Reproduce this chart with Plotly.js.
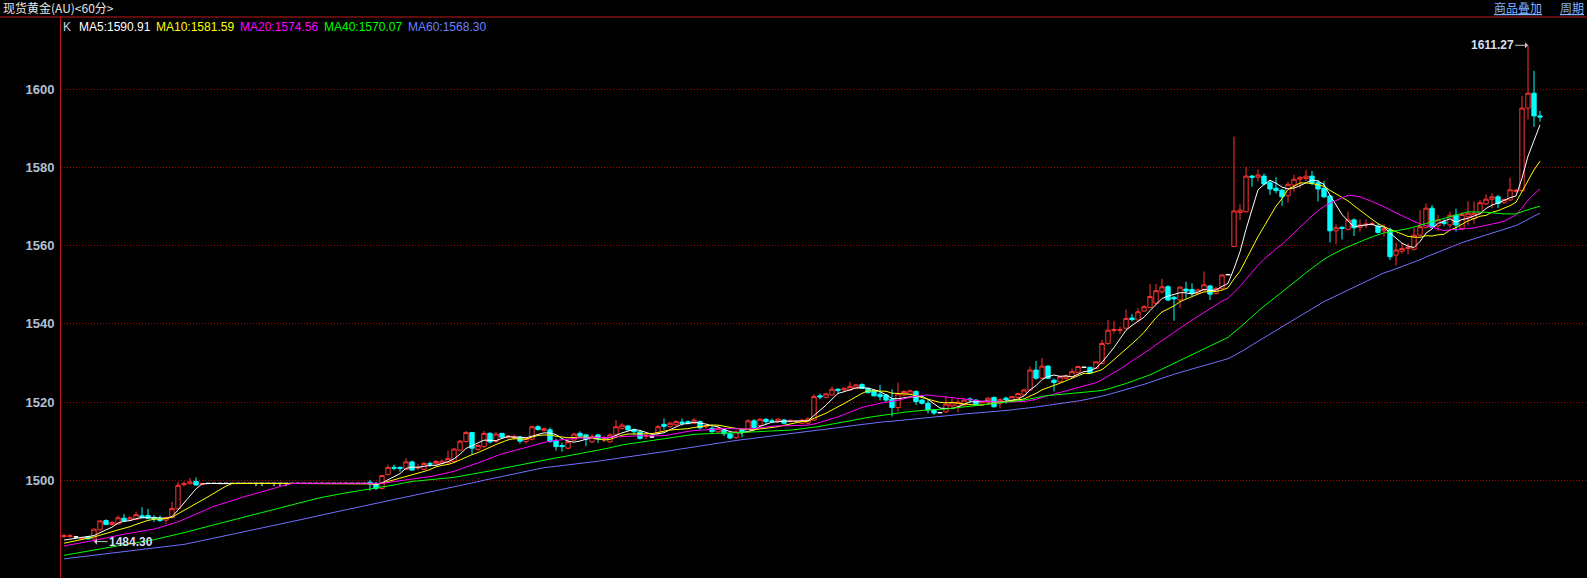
<!DOCTYPE html>
<html>
<head>
<meta charset="utf-8">
<script src="https://cdn.plot.ly/plotly-3.0.1.min.js"></script>
<style>
  html, body { margin: 0; padding: 0; background: #000; }
  #chart { width: 1587px; height: 578px; }
</style>
</head>
<body>
<div id="chart"></div>
<script>
// 现货黄金 (AU) hourly bars, oldest first
const opens = [
  1485.6,1485.6,1485.5,1485.0,1485.6,1485.0,1487.3,1489.7,1488.7,1488.8,
  1490.3,1489.8,1490.0,1490.9,1491.0,1490.5,1490.3,1489.8,1490.5,1492.7,
  1498.9,1499.1,1499.7,1498.9,1499.2,1499.2,1499.2,1499.2,1499.2,1499.2,
  1499.2,1499.2,1499.2,1499.2,1499.2,1499.2,1499.2,1499.2,1499.2,1499.2,
  1499.2,1499.2,1499.2,1499.2,1499.2,1499.2,1499.2,1499.2,1499.2,1499.2,
  1499.2,1499.5,1499.2,1497.9,1501.5,1503.3,1503.3,1502.8,1504.7,1503.1,
  1502.8,1504.3,1504.2,1504.3,1504.5,1504.8,1507.7,1509.9,1512.2,1507.9,
  1508.6,1512.0,1509.9,1512.0,1511.0,1510.9,1511.0,1509.9,1510.5,1513.7,
  1512.7,1512.9,1510.1,1508.9,1508.2,1510.3,1512.0,1511.6,1509.8,1511.6,
  1510.4,1509.8,1511.6,1513.3,1513.9,1513.0,1512.4,1511.2,1511.1,1512.0,
  1514.3,1513.7,1514.2,1514.9,1515.0,1514.6,1515.0,1513.7,1513.3,1512.4,
  1512.9,1511.9,1510.9,1512.9,1512.4,1515.2,1514.0,1515.6,1515.2,1515.0,
  1515.4,1515.1,1515.0,1514.6,1514.6,1515.4,1521.6,1521.2,1521.8,1523.3,
  1523.1,1523.1,1523.5,1524.5,1523.5,1522.9,1522.0,1521.8,1520.7,1518.6,
  1521.8,1522.0,1522.7,1520.5,1519.7,1518.0,1517.3,1517.5,1519.0,1519.0,
  1519.3,1520.8,1520.5,1519.4,1519.9,1521.2,1519.7,1521.0,1520.1,1521.2,
  1521.8,1523.1,1528.2,1526.1,1529.2,1525.6,1525.2,1526.1,1526.5,1527.6,
  1528.9,1528.9,1528.6,1529.9,1535.0,1538.3,1538.3,1538.9,1541.5,1541.0,
  1543.3,1544.2,1545.3,1548.2,1549.5,1546.8,1546.1,1548.9,1548.8,1547.8,
  1548.7,1549.7,1547.8,1549.1,1552.6,1559.8,1568.5,1568.7,1577.8,1577.5,
  1577.8,1576.1,1574.7,1574.2,1572.8,1575.5,1577.0,1577.2,1577.8,1576.1,
  1574.7,1572.7,1563.8,1564.7,1564.2,1566.6,1564.7,1565.3,1565.4,1565.0,
  1563.8,1564.0,1557.6,1558.6,1559.3,1559.1,1562.7,1564.7,1569.6,1565.1,
  1566.1,1565.3,1567.8,1564.4,1567.4,1567.0,1568.3,1570.7,1571.9,1572.5,
  1571.0,1571.7,1573.9,1574.1,1595.2,1599.0,1593.2
];
const highs = [
  1486.3,1486.3,1485.7,1485.5,1485.8,1487.6,1489.8,1490.0,1489.5,1491.0,
  1491.4,1490.8,1492.0,1493.1,1492.7,1491.1,1491.0,1490.7,1494.5,1499.6,
  1499.7,1500.6,1500.7,1499.3,1499.2,1499.2,1499.2,1499.2,1499.2,1499.2,
  1499.2,1499.2,1499.2,1499.2,1499.2,1499.2,1499.2,1499.2,1499.2,1499.2,
  1499.2,1499.2,1499.2,1499.2,1499.2,1499.2,1499.2,1499.2,1499.2,1499.2,
  1499.2,1500.1,1499.5,1501.3,1504.0,1504.0,1503.5,1505.6,1505.0,1504.2,
  1504.8,1504.8,1505.2,1505.3,1507.6,1508.2,1510.3,1512.6,1512.4,1509.2,
  1512.6,1512.3,1512.4,1512.1,1511.6,1511.7,1511.3,1510.9,1514.0,1514.1,
  1513.5,1513.5,1510.7,1509.6,1510.1,1512.2,1512.5,1511.9,1511.8,1511.9,
  1511.3,1512.0,1515.4,1514.6,1514.0,1513.3,1512.6,1511.8,1511.3,1514.1,
  1515.8,1515.0,1515.4,1515.8,1515.3,1515.9,1515.3,1514.2,1513.8,1513.7,
  1513.1,1512.2,1512.8,1513.3,1515.6,1515.6,1515.9,1515.9,1515.8,1515.9,
  1515.7,1515.6,1515.3,1515.7,1516.1,1522.0,1522.2,1522.4,1524.0,1523.5,
  1523.8,1525.2,1524.7,1524.8,1523.7,1523.1,1524.4,1522.0,1523.3,1525.0,
  1523.0,1523.2,1523.0,1520.8,1520.5,1518.3,1517.4,1521.4,1521.2,1521.0,
  1520.8,1521.2,1520.7,1520.3,1521.2,1521.4,1520.9,1521.4,1521.6,1522.4,
  1523.4,1529.1,1530.5,1531.3,1529.4,1526.0,1526.8,1527.0,1528.6,1529.3,
  1529.0,1529.0,1530.5,1535.9,1541.0,1540.7,1539.3,1543.7,1542.5,1544.0,
  1544.8,1550.2,1550.2,1551.5,1549.9,1547.2,1549.6,1550.8,1550.4,1549.0,
  1553.4,1550.0,1549.4,1552.7,1552.8,1587.9,1570.6,1580.2,1578.1,1579.5,
  1578.5,1576.8,1577.6,1574.5,1576.4,1578.1,1577.8,1579.4,1579.1,1576.8,
  1576.5,1572.9,1565.5,1565.0,1568.7,1567.0,1566.7,1566.7,1566.2,1565.6,
  1565.6,1564.6,1560.8,1560.6,1560.6,1564.6,1569.1,1570.8,1570.4,1567.9,
  1566.7,1568.7,1569.5,1568.5,1571.4,1571.3,1571.7,1573.2,1573.4,1573.0,
  1572.0,1577.4,1574.4,1598.3,1611.27,1604.7,1594.5
];
const lows = [
  1485.2,1485.3,1485.3,1484.9,1484.9,1484.3,1487.2,1488.5,1488.4,1488.6,
  1489.4,1489.6,1489.8,1490.3,1490.0,1489.3,1489.3,1488.8,1490.3,1492.5,
  1498.4,1499.0,1498.6,1498.9,1499.2,1499.2,1499.2,1499.2,1499.2,1499.2,
  1499.2,1499.2,1498.5,1498.5,1499.2,1498.5,1498.5,1498.5,1499.2,1499.2,
  1499.2,1499.2,1499.2,1499.2,1499.2,1499.2,1499.2,1499.2,1499.2,1499.2,
  1499.2,1497.3,1497.5,1497.6,1501.3,1502.6,1502.2,1502.6,1502.4,1502.6,
  1502.5,1503.4,1504.0,1504.2,1504.3,1504.4,1507.4,1509.7,1506.5,1507.6,
  1508.3,1509.4,1509.6,1510.6,1510.5,1510.3,1509.4,1509.3,1510.2,1512.7,
  1512.5,1509.6,1507.6,1507.3,1507.9,1510.0,1510.9,1508.8,1509.5,1509.5,
  1509.8,1509.6,1511.3,1513.0,1512.6,1511.6,1510.4,1510.5,1510.9,1511.6,
  1512.9,1513.4,1514.0,1514.0,1514.3,1514.4,1513.0,1513.2,1512.2,1512.1,
  1511.3,1510.5,1510.5,1511.0,1512.1,1513.2,1513.8,1514.4,1514.6,1514.8,
  1514.3,1514.8,1514.8,1514.4,1514.4,1515.2,1520.7,1521.0,1521.6,1522.2,
  1522.8,1522.9,1523.3,1523.3,1522.2,1521.4,1520.4,1520.0,1516.3,1517.6,
  1521.5,1521.8,1519.3,1519.4,1517.1,1516.7,1517.2,1517.2,1518.4,1517.4,
  1519.0,1519.8,1519.1,1519.2,1519.7,1518.6,1518.4,1519.6,1519.9,1521.0,
  1521.6,1522.8,1525.7,1525.9,1525.9,1522.7,1525.0,1525.8,1526.3,1527.4,
  1528.8,1527.2,1528.4,1529.7,1534.7,1537.6,1537.4,1538.6,1540.6,1540.8,
  1543.1,1544.0,1544.9,1547.8,1545.8,1540.8,1544.0,1546.5,1547.0,1547.5,
  1548.3,1546.1,1547.5,1548.8,1552.4,1559.6,1566.6,1568.4,1575.1,1576.4,
  1575.5,1573.0,1573.4,1570.2,1571.0,1573.8,1574.7,1576.5,1575.5,1571.3,
  1572.2,1560.8,1560.4,1561.6,1563.9,1562.5,1563.6,1564.5,1565.1,1563.1,
  1562.3,1556.3,1554.9,1558.0,1557.8,1558.8,1562.4,1564.4,1564.4,1563.8,
  1565.0,1564.4,1563.6,1564.0,1565.3,1565.6,1568.0,1570.4,1569.6,1569.6,
  1570.7,1571.4,1573.6,1573.8,1592.3,1590.4,1591.7
];
const closes = [
  1485.8,1485.8,1485.5,1485.4,1485.0,1487.5,1489.6,1488.7,1489.2,1490.4,
  1489.6,1490.4,1491.2,1490.5,1490.3,1490.2,1489.7,1490.5,1492.8,1498.7,
  1499.1,1499.6,1498.8,1499.2,1499.2,1499.2,1499.2,1499.2,1499.2,1499.2,
  1499.2,1499.2,1499.2,1499.2,1499.2,1499.2,1499.2,1499.2,1499.2,1499.2,
  1499.2,1499.2,1499.2,1499.2,1499.2,1499.2,1499.2,1499.2,1499.2,1499.2,
  1499.2,1499.1,1497.9,1501.2,1503.3,1503.1,1503.0,1504.7,1502.6,1503.3,
  1504.3,1504.1,1504.8,1504.9,1505.6,1508.0,1510.0,1512.2,1508.2,1508.9,
  1512.0,1509.8,1511.8,1511.0,1511.3,1511.2,1510.0,1510.7,1513.7,1513.0,
  1513.2,1509.9,1508.6,1508.6,1509.9,1511.8,1511.3,1510.5,1511.2,1510.5,
  1510.6,1511.6,1513.7,1514.1,1512.9,1512.4,1510.7,1511.5,1511.1,1513.7,
  1513.8,1514.6,1515.0,1514.6,1514.6,1515.4,1513.4,1513.9,1512.4,1513.3,
  1511.9,1510.8,1512.4,1512.2,1515.2,1513.5,1515.6,1515.0,1515.0,1515.6,
  1514.6,1515.3,1515.1,1515.4,1515.7,1521.4,1521.3,1522.1,1523.3,1523.0,
  1523.5,1524.0,1524.4,1523.5,1522.4,1521.6,1521.4,1520.5,1518.6,1522.1,
  1522.7,1522.9,1520.1,1519.7,1518.0,1517.2,1517.3,1519.5,1519.8,1520.0,
  1520.5,1520.6,1519.3,1520.1,1521.0,1518.8,1520.7,1520.6,1521.4,1522.2,
  1523.1,1528.2,1526.1,1529.2,1526.1,1525.0,1526.5,1526.7,1527.8,1529.1,
  1528.9,1527.5,1530.3,1535.0,1538.4,1538.6,1538.5,1541.4,1541.1,1543.1,
  1544.4,1547.0,1548.5,1549.5,1546.1,1546.4,1549.4,1548.4,1547.8,1548.7,
  1550.0,1547.6,1549.1,1552.5,1552.6,1568.9,1569.1,1577.8,1577.5,1578.1,
  1575.8,1574.5,1574.1,1572.5,1575.7,1577.0,1577.5,1577.8,1576.0,1574.5,
  1572.5,1563.8,1564.6,1564.4,1566.6,1564.6,1565.3,1565.5,1565.6,1563.4,
  1564.4,1557.2,1558.9,1559.3,1559.6,1562.7,1564.9,1569.6,1564.7,1566.6,
  1565.7,1567.8,1565.3,1568.0,1568.3,1568.3,1571.0,1571.9,1572.5,1570.8,
  1571.85,1574.3,1574.2,1595.2,1599.0,1593.2,1592.95
];

// Moving-average values for the bars before each window is full (every 5th bar)
const headStep = 5;
const ma5Head  = [1484.7];
const ma10Head = [1483.9, 1485.5];
const ma20Head = [1483.2, 1484.6, 1486.2, 1487.5];
const ma40Head = [1480.8, 1482.2, 1483.5, 1484.8, 1486.6, 1488.6, 1490.6, 1492.6];
const ma60Head = [1479.9, 1480.8, 1481.7, 1482.6, 1483.6, 1485.2, 1486.8, 1488.5,
                  1490.1, 1491.8, 1493.4, 1495.0];

// Moving-average settings and latest readings
const maPeriods = [5, 10, 20, 40, 60];
const maHeads   = [ma5Head, ma10Head, ma20Head, ma40Head, ma60Head];
const maColors  = ['#ffffff', '#ffff00', '#ff00ff', '#00ff00', '#7070ff'];
const maLabelColors = ['#ffffff', '#ffff00', '#ff00ff', '#00ff00', '#6a80ff'];
const maLatest  = ['1590.91', '1581.59', '1574.56', '1570.07', '1568.30'];

const yTicks = [1500, 1520, 1540, 1560, 1580, 1600];
const highMark = {bar: 244, value: 1611.27, label: '1611.27'};
const lowMark  = {bar: 5,   value: 1484.30, label: '1484.30'};

const W = 1587, H = 578, L = 61, T = 17;
const plotW = W - L, plotH = H - T;
const px = x => (x - L) / plotW;      // pixel -> paper x
const py = y => (H - y) / plotH;      // pixel -> paper y

const idx = closes.map((_, i) => i);

// split bars into coloured candles and flat (open == close) ones
const bodyIdx = idx.filter(i => opens[i] !== closes[i]);
const flatIdx = idx.filter(i => opens[i] === closes[i]);
const pick = (arr, sel) => sel.map(i => arr[i]);

function movingAverage(n, head) {
  const xs = [], ys = [];
  head.forEach((v, j) => { xs.push(j * headStep); ys.push(v); });
  for (let i = n - 1; i < closes.length; i++) {
    let s = 0;
    for (let k = i - n + 1; k <= i; k++) s += closes[k];
    xs.push(i); ys.push(s / n);
  }
  return {xs, ys};
}

const traces = [
  {
    type: 'candlestick',
    x: bodyIdx, open: pick(opens, bodyIdx), high: pick(highs, bodyIdx),
    low: pick(lows, bodyIdx), close: pick(closes, bodyIdx),
    increasing: {line: {color: '#ff3232', width: 1}, fillcolor: '#000000'},
    decreasing: {line: {color: '#00ffff', width: 1}, fillcolor: '#00ffff'},
    whiskerwidth: 0, hoverinfo: 'skip'
  },
  {
    type: 'candlestick',
    x: flatIdx, open: pick(opens, flatIdx), high: pick(highs, flatIdx),
    low: pick(lows, flatIdx), close: pick(closes, flatIdx),
    increasing: {line: {color: '#ffffff', width: 1}, fillcolor: '#ffffff'},
    decreasing: {line: {color: '#ffffff', width: 1}, fillcolor: '#ffffff'},
    whiskerwidth: 0, hoverinfo: 'skip'
  }
];

maPeriods.forEach((n, k) => {
  const ma = movingAverage(n, maHeads[k]);
  traces.push({
    type: 'scatter', mode: 'lines', x: ma.xs, y: ma.ys,
    line: {color: maColors[k], width: 1}, hoverinfo: 'skip'
  });
});

const txt = (x, y, text, color, size, extra) => Object.assign({
  xref: 'paper', yref: 'paper', x: px(x), y: py(y), text: text,
  showarrow: false, xanchor: 'left', yanchor: 'middle',
  font: {family: 'Liberation Sans, Arial, sans-serif', size: size, color: color}
}, extra || {});

const annotations = [
  txt(1, 8, '现货黄金(AU)&lt;60分&gt;', '#e6e6e6', 12,
      {font: {family: 'Noto Sans CJK SC, sans-serif', size: 12, color: '#e6e6e6'}}),
  txt(1492, 8, '商品叠加', '#7fb4ff', 12,
      {font: {family: 'Noto Sans CJK SC, sans-serif', size: 12, color: '#7fb4ff', lineposition: 'under'}}),
  txt(1558, 8, '周期', '#7fb4ff', 12,
      {font: {family: 'Noto Sans CJK SC, sans-serif', size: 12, color: '#7fb4ff', lineposition: 'under'}}),
  txt(61, 27, 'K', '#c8d2e6', 12)
];
const legendX = [77, 154, 238, 322, 406];
maPeriods.forEach((n, k) => {
  annotations.push(txt(legendX[k], 27, 'MA' + n + ':' + maLatest[k], maLabelColors[k], 12));
});
annotations.push({
  x: highMark.bar, y: highMark.value, xref: 'x', yref: 'y',
  text: highMark.label, showarrow: true, arrowhead: 1, arrowsize: 1, arrowwidth: 1,
  arrowcolor: '#c8c8c8', axref: 'pixel', ayref: 'pixel', ax: -36, ay: 0, standoff: 0,
  font: {family: 'Liberation Sans, Arial, sans-serif', size: 12, color: '#d6deee', weight: 'bold'}
});
annotations.push({
  x: lowMark.bar, y: lowMark.value, xref: 'x', yref: 'y',
  text: lowMark.label, showarrow: true, arrowhead: 1, arrowsize: 1, arrowwidth: 1,
  arrowcolor: '#c8c8c8', axref: 'pixel', ayref: 'pixel', ax: 37, ay: 0, standoff: 0,
  font: {family: 'Liberation Sans, Arial, sans-serif', size: 12, color: '#d6deee', weight: 'bold'}
});

const layout = {
  width: W, height: H,
  margin: {l: L, r: 0, t: T, b: 0, pad: 0},
  paper_bgcolor: '#000000', plot_bgcolor: '#000000',
  showlegend: false, hovermode: false,
  boxgap: 0.28, boxgroupgap: 0,
  xaxis: {
    range: [-0.5, (W - L) / 6 - 0.5], showgrid: false, zeroline: false,
    showticklabels: false, ticks: '', showline: false,
    rangeslider: {visible: false}, fixedrange: true
  },
  yaxis: {
    range: [1475.0, 1618.5], tickvals: yTicks, ticktext: yTicks.map(String),
    showgrid: true, gridcolor: '#a00000', griddash: '1px,2px', gridwidth: 1,
    zeroline: false, ticks: '', showline: true, linecolor: '#c01818', linewidth: 1,
    ticklabelstandoff: 3,
    tickfont: {family: 'Liberation Sans, Arial, sans-serif', size: 13, color: '#b4c0d2', weight: 'bold'},
    fixedrange: true
  },
  shapes: [{
    type: 'line', xref: 'paper', yref: 'paper',
    x0: px(0), x1: 1, y0: 1, y1: 1,
    line: {color: '#c01818', width: 1}
  }],
  annotations: annotations
};

Plotly.newPlot('chart', traces, layout, {staticPlot: true, displayModeBar: false});
</script>
</body>
</html>
